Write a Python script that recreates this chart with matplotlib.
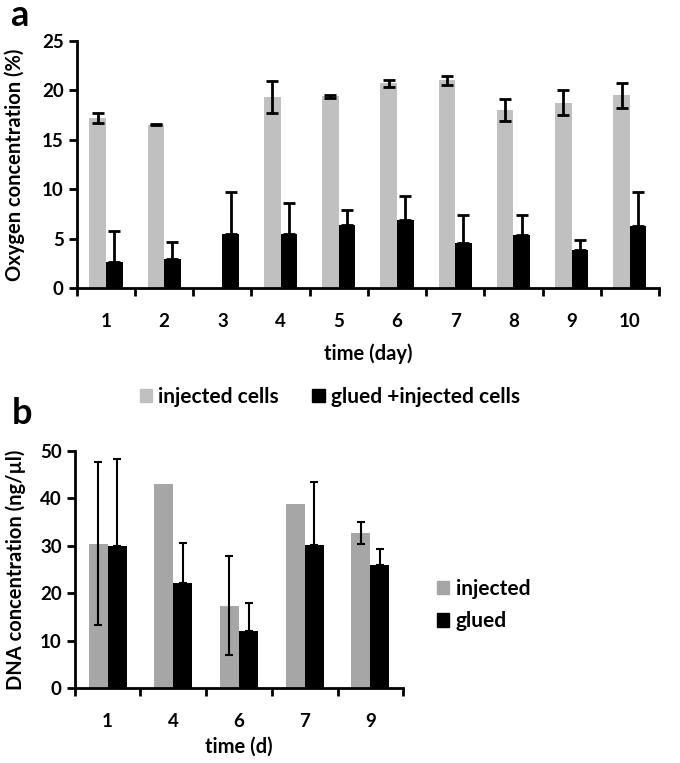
import numpy as np
import matplotlib.pyplot as plt
from matplotlib.patches import Patch

plt.rcParams['font.family'] = ['Lato', 'DejaVu Sans']
plt.rcParams['font.weight'] = 'bold'

# panel a data: oxygen concentration per day
days_a = ['1', '2', '3', '4', '5', '6', '7', '8', '9', '10']
oxy_injected = [17.2, 16.5, np.nan, 19.35, 19.4, 20.7, 21.0, 18.0, 18.75, 19.5]
oxy_injected_err = [0.55, 0.05, np.nan, 1.6, 0.15, 0.35, 0.5, 1.15, 1.25, 1.25]
oxy_glued = [2.6, 2.95, 5.5, 5.5, 6.4, 6.85, 4.6, 5.35, 3.85, 6.25]
oxy_glued_err = [3.2, 1.7, 4.25, 3.15, 1.45, 2.5, 2.8, 2.05, 1.0, 3.5]

# panel b data: DNA concentration
days_b = ['1', '4', '6', '7', '9']
dna_injected = [30.4, 43.0, 17.4, 38.75, 32.7]
dna_injected_err = [17.2, np.nan, 10.5, np.nan, 2.3]
dna_glued = [30.0, 22.15, 12.1, 30.2, 25.9]
dna_glued_err = [18.3, 8.4, 5.9, 13.2, 3.4]

gray_a = '#c0c0c0'
gray_b = '#a6a6a6'

fig = plt.figure(figsize=(6.8, 7.63), dpi=100)


def style_axis(ax, n, labels, pad):
    for s in ['top', 'right']:
        ax.spines[s].set_visible(False)
    for s in ['left', 'bottom']:
        ax.spines[s].set_linewidth(2)
    ax.set_xlim(-0.5, n - 0.5)
    ax.set_xticks(np.arange(n + 1) - 0.5)
    ax.set_xticklabels([])
    ax.set_xticks(np.arange(n), minor=True)
    ax.set_xticklabels(labels, minor=True, fontsize=13.5, fontweight='bold')
    ax.tick_params(axis='x', which='major', direction='out', length=6, width=2)
    ax.tick_params(axis='x', which='minor', length=0, pad=pad)
    ax.tick_params(axis='y', direction='out', length=6, width=2, labelsize=13.5)
    for t in ax.get_yticklabels():
        t.set_fontweight('bold')


# ---- panel a
ax1 = fig.add_axes([0.113, 0.6226, 0.856, 0.3237])
x = np.arange(len(days_a))
w = 0.285
ax1.bar(x - w / 2, oxy_injected, w, color=gray_a)
ax1.bar(x + w / 2, oxy_glued, w, color='black')
ax1.errorbar(x - w / 2, oxy_injected, yerr=oxy_injected_err, fmt='none',
             ecolor='black', elinewidth=2, capsize=4, capthick=2)
ax1.errorbar(x + w / 2, oxy_glued, yerr=[np.zeros(len(x)), oxy_glued_err],
             fmt='none', ecolor='black', elinewidth=2, capsize=4, capthick=2)
ax1.set_ylim(0, 25)
ax1.set_yticks([0, 5, 10, 15, 20, 25])
style_axis(ax1, len(days_a), days_a, 18)
ax1.set_ylabel('Oxygen concentration (%)', fontsize=14.5, fontweight='bold',
               labelpad=12)
ax1.set_xlabel('time (day)', fontsize=14.5, fontweight='bold', labelpad=10)

fig.legend(handles=[Patch(color=gray_a, label='injected cells'),
                    Patch(color='black', label='glued +injected cells')],
           loc='center', bbox_to_anchor=(0.485, 1 - 397 / 763), ncol=2,
           frameon=False, prop={'size': 15, 'weight': 'bold'},
           handlelength=0.6, handleheight=0.6, handletextpad=0.3,
           columnspacing=1.6)

# ---- panel b
ax2 = fig.add_axes([0.110, 0.0983, 0.483, 0.3106])
xb = np.arange(len(days_b))
wb = 0.29
ax2.bar(xb - wb / 2, dna_injected, wb, color=gray_b)
ax2.bar(xb + wb / 2, dna_glued, wb, color='black')
ax2.errorbar(xb - wb / 2, dna_injected, yerr=dna_injected_err, fmt='none',
             ecolor='black', elinewidth=1.5, capsize=3, capthick=1.5)
ax2.errorbar(xb + wb / 2, dna_glued, yerr=[np.zeros(len(xb)), dna_glued_err],
             fmt='none', ecolor='black', elinewidth=1.5, capsize=3, capthick=1.5)
ax2.set_ylim(0, 50)
ax2.set_yticks([0, 10, 20, 30, 40, 50])
style_axis(ax2, len(days_b), days_b, 18)
ax2.set_ylabel('DNA concentration (ng/\u00b5l)', fontsize=14.5, fontweight='bold',
               labelpad=10)
ax2.set_xlabel('time (d)', fontsize=14.5, fontweight='bold', labelpad=5)

fig.legend(handles=[Patch(color=gray_b, label='injected'),
                    Patch(color='black', label='glued')],
           loc='center left', bbox_to_anchor=(0.615, 1 - 605 / 763),
           frameon=False, prop={'size': 15, 'weight': 'bold'},
           handlelength=0.6, handleheight=0.6, handletextpad=0.3,
           labelspacing=0.6)

fig.text(10 / 680, 1 - 15 / 763, 'a', fontsize=26, fontweight='bold', va='center')
fig.text(12 / 680, 1 - 413 / 763, 'b', fontsize=26, fontweight='bold', va='center')

fig.savefig('out.png', dpi=100)
